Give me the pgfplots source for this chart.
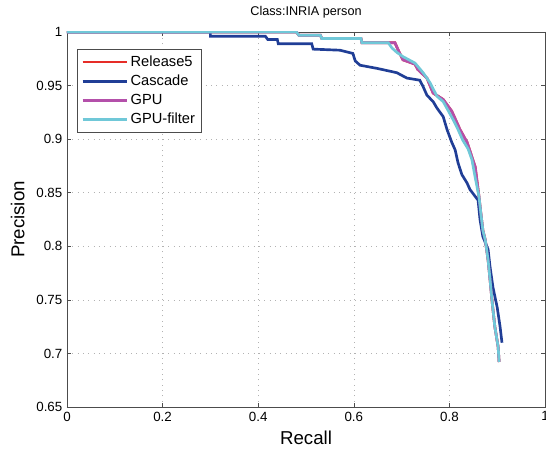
\documentclass[border=0pt]{standalone}
\usepackage{fontspec}
\setmainfont{Liberation Sans}
\usepackage{pgfplots}
\pgfplotsset{compat=1.18}

\definecolor{rel}{RGB}{230,45,40}
\definecolor{casc}{RGB}{32,62,150}
\definecolor{gpu}{RGB}{180,80,170}
\definecolor{gpuf}{RGB}{112,200,216}

\begin{document}
\begin{tikzpicture}
\begin{axis}[
  scale only axis,width=358.5pt,height=281.25pt,
  xmin=0,xmax=1,ymin=0.65,ymax=1,
  xtick={0,0.2,0.4,0.6,0.8,1},
  ytick={0.65,0.7,0.75,0.8,0.85,0.9,0.95,1},
  xticklabels={0,0.2,0.4,0.6,0.8,1},
  yticklabels={0.65,0.7,0.75,0.8,0.85,0.9,0.95,1},
  /pgf/number format/assume math mode=true,
  tick label style={font=\fontsize{10}{12}\selectfont},
  tick align=inside,tick pos=both,major tick length=3pt,
  axis line style={gray!60!black},
  every tick/.style={gray!60!black},
  grid=major,grid style={gray!60,dash pattern=on 0.8pt off 3.2pt},
  title={Class:INRIA person},
  every axis title shift=0pt,
  title style={font=\fontsize{9.5}{11}\selectfont,at={(rel axis cs:0.5,1.053)},anchor=center},
  xlabel={Recall},ylabel={Precision},
  label style={font=\fontsize{14}{16}\selectfont},
  xlabel style={at={(rel axis cs:0.5,-0.082)},anchor=center},
  ylabel style={at={(rel axis cs:-0.103,0.5)},anchor=center},
  legend style={font=\fontsize{11}{13}\selectfont,at={(rel axis cs:0.021,0.955)},anchor=north west,
    draw=gray!60!black,row sep=1pt,inner sep=3pt},
  legend cell align=left,
  legend image code/.code={\draw[#1] (2pt,0pt) -- (35pt,0pt);},
]
\addplot[rel,line width=2pt] coordinates {
(0,1)(0.48,1)(0.485,0.997)(0.53,0.997)(0.533,0.994)(0.615,0.994)(0.617,0.990)(0.686,0.990)
(0.695,0.981)(0.703,0.974)(0.728,0.970)(0.734,0.965)(0.753,0.957)(0.766,0.943)(0.787,0.937)
(0.805,0.926)(0.822,0.909)(0.837,0.897)(0.854,0.874)(0.862,0.846)(0.866,0.830)(0.870,0.815)
(0.875,0.806)(0.881,0.787)(0.885,0.769)(0.889,0.750)(0.895,0.725)(0.902,0.706)(0.904,0.692)};
\addlegendentry{Release5}
\addplot[casc,line width=2pt] coordinates {
(0,1)(0.300,1)(0.300,0.996)(0.415,0.996)(0.420,0.993)(0.440,0.993)(0.442,0.989)(0.512,0.989)
(0.515,0.984)(0.571,0.983)(0.598,0.980)(0.603,0.973)(0.613,0.969)(0.649,0.966)(0.690,0.962)
(0.711,0.957)(0.738,0.955)(0.745,0.949)(0.753,0.941)(0.766,0.935)(0.774,0.929)(0.787,0.921)
(0.795,0.909)(0.805,0.897)(0.812,0.890)(0.818,0.878)(0.826,0.867)(0.837,0.859)(0.843,0.853)
(0.860,0.843)(0.864,0.825)(0.870,0.809)(0.881,0.797)(0.885,0.781)(0.891,0.762)(0.900,0.743)
(0.906,0.725)(0.910,0.710)};
\addlegendentry{Cascade}
\addplot[gpu,line width=2pt] coordinates {
(0,1)(0.48,1)(0.485,0.997)(0.53,0.997)(0.533,0.994)(0.615,0.994)(0.617,0.990)(0.686,0.990)
(0.695,0.981)(0.703,0.974)(0.728,0.970)(0.734,0.965)(0.753,0.957)(0.766,0.943)(0.787,0.937)
(0.805,0.926)(0.822,0.909)(0.837,0.897)(0.854,0.874)(0.862,0.846)(0.866,0.830)(0.870,0.815)
(0.875,0.806)(0.881,0.787)(0.885,0.769)(0.889,0.750)(0.895,0.725)(0.902,0.706)(0.904,0.692)};
\addlegendentry{GPU}
\addplot[gpuf,line width=2pt] coordinates {
(0,1)(0.48,1)(0.485,0.997)(0.53,0.997)(0.533,0.994)(0.615,0.994)(0.617,0.990)(0.672,0.990)
(0.680,0.985)(0.690,0.981)(0.703,0.977)(0.728,0.971)(0.745,0.962)(0.759,0.953)(0.774,0.940)
(0.787,0.935)(0.797,0.927)(0.808,0.918)(0.818,0.909)(0.828,0.899)(0.839,0.891)(0.847,0.881)
(0.854,0.864)(0.862,0.846)(0.866,0.830)(0.870,0.815)(0.875,0.806)(0.881,0.787)(0.885,0.769)
(0.889,0.750)(0.895,0.725)(0.902,0.706)(0.904,0.692)};
\addlegendentry{GPU{-}filter}
\end{axis}
\path (current axis.south west) ++(-50.25pt,-33.75pt) coordinate (bbA);
\path (current axis.north east) ++(0.75pt,24pt) coordinate (bbB);
\pgfresetboundingbox
\path[use as bounding box] (bbA) rectangle (bbB);
\end{tikzpicture}
\end{document}
